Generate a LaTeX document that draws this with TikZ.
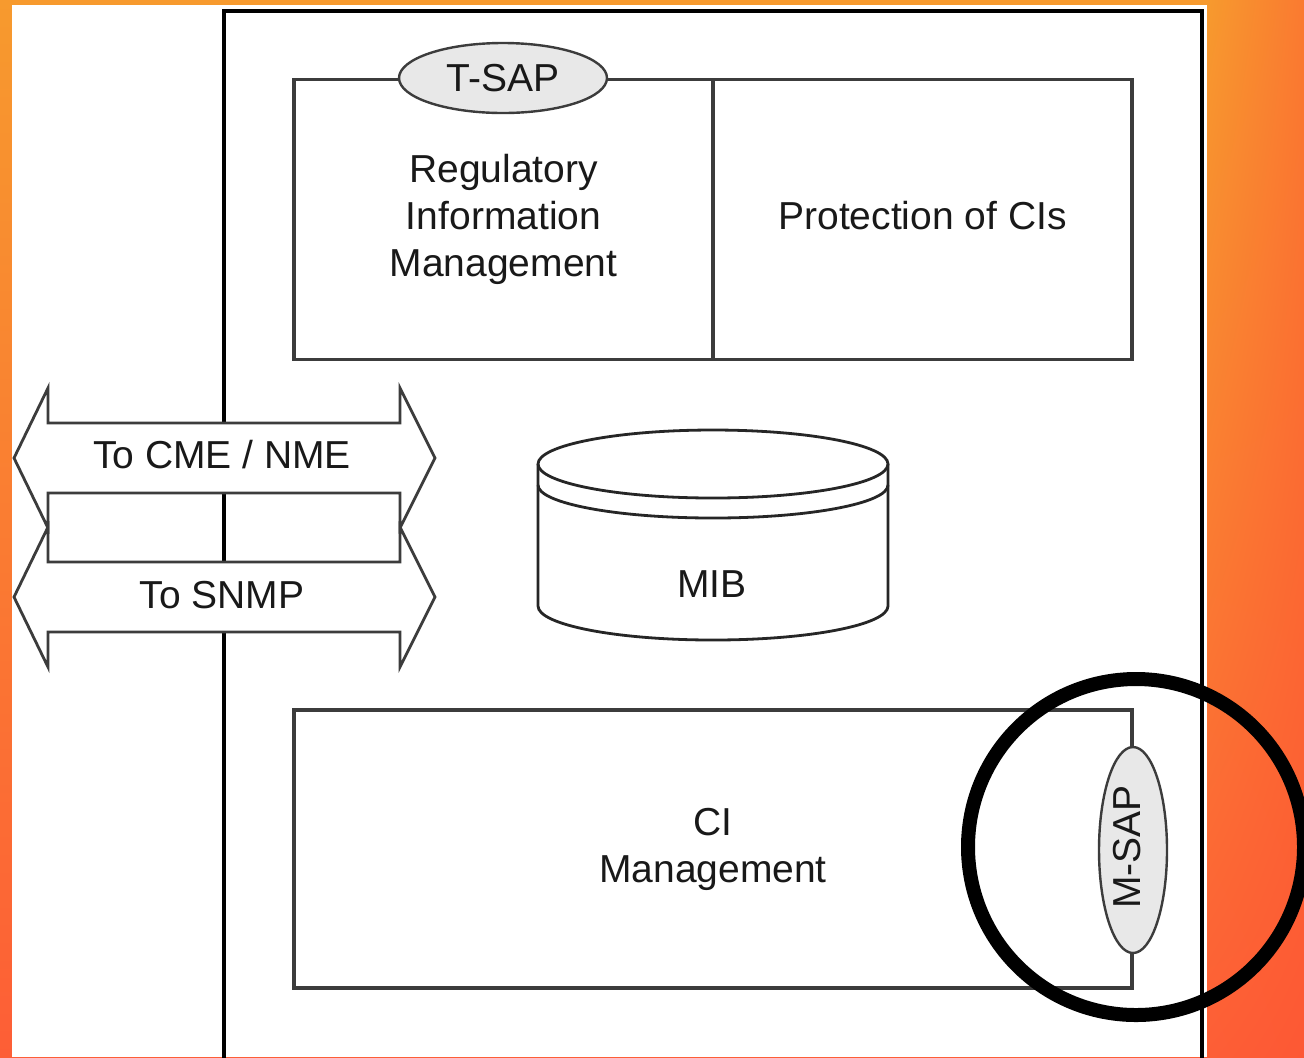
\documentclass[tikz,border=0pt]{standalone}
\usepackage{fontspec}
\setmainfont{Liberation Sans}
\usetikzlibrary{shapes.geometric,shadings}
\definecolor{oA}{RGB}{247,154,46}
\definecolor{oB}{RGB}{250,122,48}
\definecolor{oC}{RGB}{253,94,54}
\definecolor{oD}{RGB}{253,88,52}
\definecolor{boxgray}{RGB}{60,60,60}
\definecolor{sapfill}{RGB}{232,232,232}
\definecolor{txt}{RGB}{25,25,25}
\begin{document}
\begin{tikzpicture}[x=0.5pt,y=-0.5pt,
  lbl/.style={font=\fontsize{19.5}{23.5}\selectfont, text=txt},
  box/.style={draw=boxgray, line width=1.6pt, inner sep=0pt, align=center, lbl},
  sap/.style={ellipse, draw=boxgray, fill=sapfill, line width=1.2pt, inner sep=0pt, lbl},
  arr/.style={draw=boxgray, line width=1.4pt, line join=miter},
  cyl/.style={draw=black!85, line width=1.4pt},
  ]
\useasboundingbox (0,0) rectangle (1304,1057);
% background
\shade[top color=oA, bottom color=oC] (0,0) rectangle (1207,1057);
\shade[upper left=oA, upper right=oB, lower left=oC, lower right=oD] (1207,0) rectangle (1304,1057);
\fill[white] (12,5) rectangle (1207,1057);
% main frame
\draw[line width=1.8pt, black] (224,1062) -- (224,11) -- (1202,11) -- (1202,1062);
% top boxes
\node[box, minimum width=209.5pt, minimum height=140pt] (reg) at (503.5,219.5)
  {Regulatory\\Information\\Management};
\node[box, minimum width=209.5pt, minimum height=140pt, text depth=3.7pt] (prot) at (922.5,219.5)
  {Protection of CIs};
\node[sap, minimum width=104pt, minimum height=35pt] (tsap) at (503,78) {T-SAP};
% MIB cylinder
\draw[cyl, fill=white] (538,464) -- (538,606) arc[start angle=180, end angle=0, x radius=175, y radius=34] -- (888,464);
\draw[cyl] (713,464) ellipse [x radius=175, y radius=34];
\draw[cyl] (538,485) arc[start angle=180, end angle=0, x radius=175, y radius=33];
\node[lbl, anchor=base] (mib) at (712,597) {MIB};
% CI management
\node[box, minimum width=419pt, minimum height=139pt] (ci) at (713,849)
  {CI\\Management};
\node[sap, minimum width=34pt, minimum height=103pt] (msap) at (1133,850) {};
\node[lbl, rotate=90] (msaplbl) at (1127,847) {M-SAP};
% double arrows
\fill[white] (14,597) -- (48,527) -- (48,562) -- (400,562) -- (400,527) -- (435,597)
  -- (400,667) -- (400,632) -- (48,632) -- (48,667) -- cycle;
\fill[white] (14,458) -- (48,388) -- (48,423) -- (400,423) -- (400,388) -- (435,458)
  -- (400,528) -- (400,493) -- (48,493) -- (48,528) -- cycle;
\draw[arr] (14,597) -- (48,527) -- (48,562) -- (400,562) -- (400,527) -- (435,597)
  -- (400,667) -- (400,632) -- (48,632) -- (48,667) -- cycle;
\draw[arr] (14,458) -- (48,388) -- (48,423) -- (400,423) -- (400,388) -- (435,458)
  -- (400,528) -- (400,493) -- (48,493) -- (48,528) -- cycle;
\node[lbl, anchor=base] (cme) at (222,468) {To CME / NME};
\node[lbl, anchor=base] (snmp) at (222,608) {To SNMP};
% highlight circle
\node[circle, draw=black, line width=7pt, minimum size=168pt, inner sep=0pt] (hl) at (1136,847) {};
\end{tikzpicture}
\end{document}
